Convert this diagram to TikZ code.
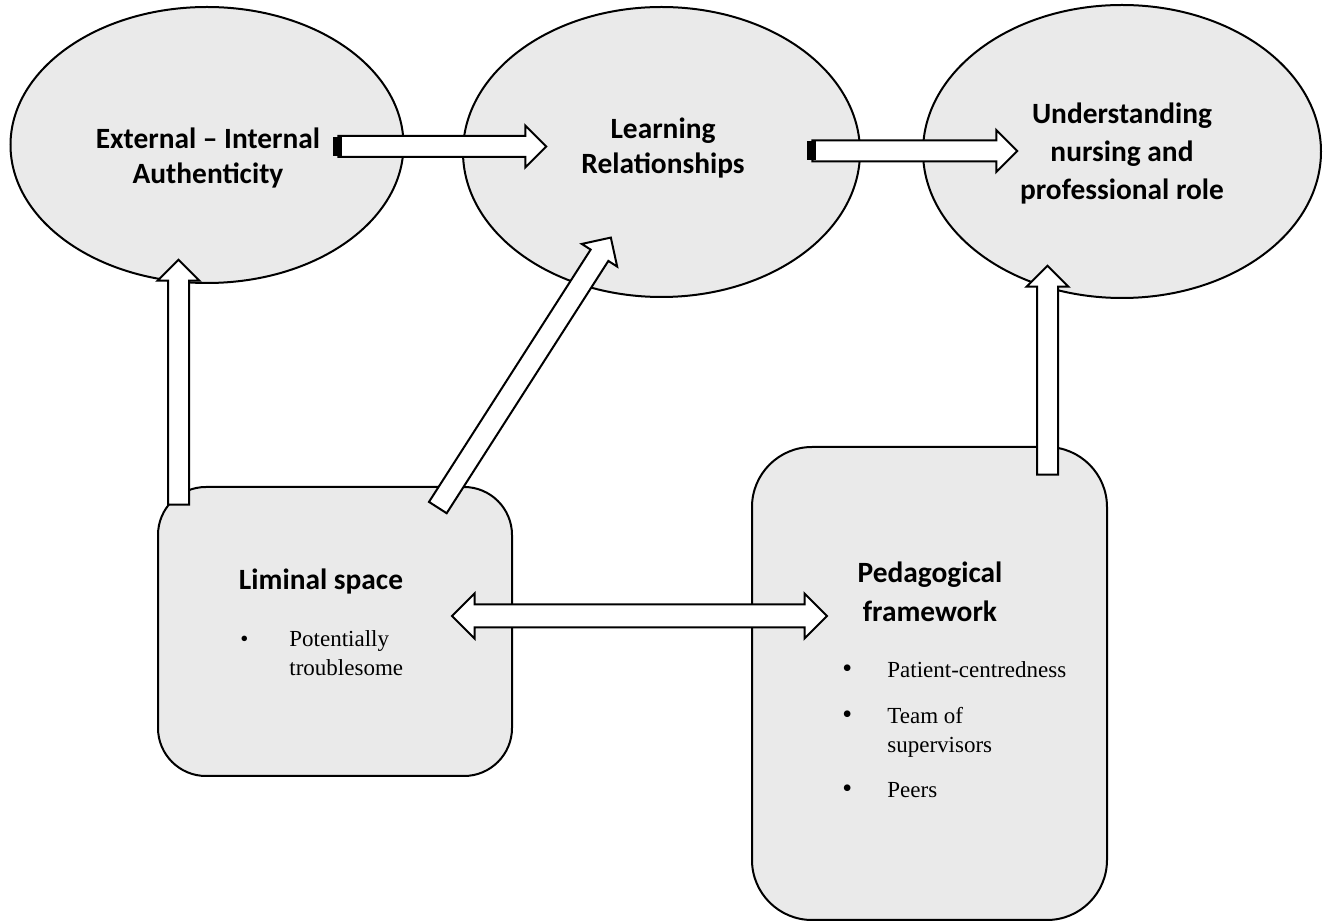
\documentclass[tikz,border=0pt]{standalone}
\usepackage{fontspec}
\setmainfont{Liberation Serif}
\newfontfamily\headfont{Carlito}
\usepackage{tikz}
\usetikzlibrary{shapes.geometric,shapes.arrows,calc}
\definecolor{bubblegrey}{RGB}{234,234,234}
\newcommand{\bigdot}{\makebox[22.5pt][l]{\fontsize{14}{14}\selectfont\textbullet}}

\begin{document}
\begin{tikzpicture}[x=0.5pt,y=-0.5pt,
  bubble/.style={ellipse,draw,line width=1pt,fill=bubblegrey,inner sep=0pt},
  panel/.style={rectangle,draw,line width=1pt,fill=bubblegrey,inner sep=0pt},
  heading/.style={font=\headfont\bfseries\fontsize{14.7}{#1}\selectfont,align=center,inner sep=0pt},
  heading/.default=17.5,
  items/.style={font=\fontsize{11.5}{14.5}\selectfont,align=left,anchor=north west,inner sep=0pt},
  onearrow/.style={single arrow,draw,line width=1pt,fill=white,inner xsep=0pt,inner ysep=4.75pt,single arrow head extend=5.25pt,minimum width=0pt},
  twoarrow/.style={double arrow,draw,line width=1pt,fill=white,inner xsep=0pt,inner ysep=5.25pt,double arrow head extend=5.5pt,minimum width=0pt}]
\useasboundingbox (0,0) rectangle (1330,924);

% bubbles
\node[bubble,minimum width=196.5pt,minimum height=138pt] (ext) at (207,145) {};
\node[bubble,minimum width=198.5pt,minimum height=145pt] (learn) at (661.5,152) {};
\node[bubble,minimum width=199pt,minimum height=146.5pt] (und) at (1122,151.5) {};
% boxes
\node[panel,rounded corners=24pt,minimum width=177pt,minimum height=144.5pt] (liminal) at (335,631.5) {};
\node[panel,rounded corners=30pt,minimum width=177.5pt,minimum height=236.5pt] (ped) at (929.5,683.5) {};

% texts
\node[heading] (ext-t) at (208,158.5) {External \textendash{} Internal\\Authenticity};
\node[heading] (learn-t) at (663,148.5) {Learning\\Relationships};
\node[heading=19] (und-t) at (1122,154) {Understanding\\nursing and\\professional role};
\node[heading,anchor=base] (liminal-t) at (321,590) {Liminal space};
\node[heading=19.5] (ped-t) at (930,592) {Pedagogical\\framework};
\node[items] (liminal-l) at (240,630) {\makebox[24.5pt][l]{\textbullet}Potentially\\\hspace*{24.5pt}troublesome};
\node[items] (ped-l) at (842,661.3) {\bigdot Patient-centredness\\[8.5pt]
  \bigdot Team of\\\hspace*{22.5pt}supervisors\\[8pt]
  \bigdot Peers};

% arrow ends
\coordinate (ext-out) at (333,146.5);   \coordinate (learn-in) at (541,146.5);
\coordinate (learn-out) at (807,151);   \coordinate (und-in) at (1012,151);
\coordinate (liminal-up) at (178.5,510); \coordinate (ext-in) at (178.5,265);
\coordinate (liminal-diag) at (435,512); \coordinate (learn-low) at (608,242);
\coordinate (ped-up) at (1047.5,480);   \coordinate (und-low) at (1047.5,271);
\coordinate (liminal-east) at (452,616); \coordinate (ped-west) at (827,616);

\foreach \from/\to [count=\i] in {ext-out/learn-in,learn-out/und-in,liminal-up/ext-in,liminal-diag/learn-low,ped-up/und-low} {
  \path let \p1=($(\to)-(\from)$) in
    node[onearrow,minimum height={veclen(\x1,\y1)},rotate={atan2(\y1,\x1)}] (arrow\i) at ($(\from)!0.5!(\to)$) {};
}
\path let \p1=($(ped-west)-(liminal-east)$) in
  node[twoarrow,minimum height={veclen(\x1,\y1)}] (arrow6) at ($(liminal-east)!0.5!(ped-west)$) {};

% black tails
\fill (ext-out) ++(0,-9.5) rectangle ++(9,19);
\fill (learn-out) ++(0,-9.5) rectangle ++(9,19);
\end{tikzpicture}
\end{document}
